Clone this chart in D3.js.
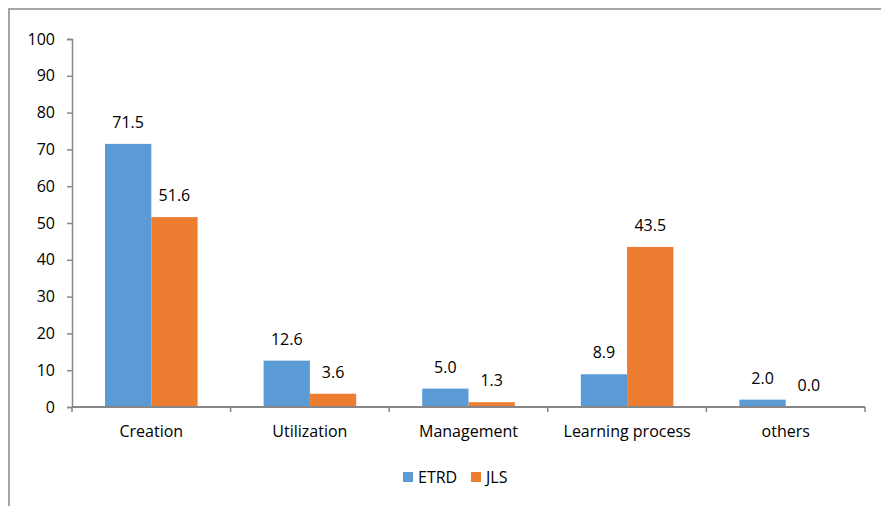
<!DOCTYPE html>
<html>
<head>
<meta charset="utf-8">
<script src="https://cdn.jsdelivr.net/npm/d3@7"></script>
<style>
  html, body { margin: 0; padding: 0; background: #fff; }
  svg { display: block; }
  text { font-family: "Open Sans", "Noto Sans", sans-serif; fill: #000; }
</style>
</head>
<body>
<svg id="chart" width="881" height="506"></svg>
<script>
const categories = ["Creation", "Utilization", "Management", "Learning process", "others"];
const seriesNames = ["ETRD", "JLS"];
const etrd = [71.5, 12.6, 5.0, 8.9, 2.0];
const jls = [51.6, 3.6, 1.3, 43.5, 0.0];
const yTicks = [0, 10, 20, 30, 40, 50, 60, 70, 80, 90, 100];
const colors = ["#5B9BD5", "#ED7D31"];

const svg = d3.select("#chart");
const axisColor = "#868686";
const fontSize = "16px";

// outer frame (extends beyond right/bottom edge)
svg.append("rect")
  .attr("x", 9).attr("y", 9)
  .attr("width", 900).attr("height", 520)
  .attr("fill", "none").attr("stroke", "#a6a6a6").attr("stroke-width", 2);

const plotLeft = 72, plotRight = 865, plotTop = 39, plotBottom = 407;

const x0 = d3.scaleBand().domain(categories).range([plotLeft, plotRight]).paddingInner(0).paddingOuter(0);
const x1 = d3.scaleBand().domain(seriesNames).range([0, x0.bandwidth()]).paddingInner(0).paddingOuter(0.713);
const y = d3.scaleLinear().domain([0, 100]).range([plotBottom, plotTop]);

const data = categories.map((c, i) => ({ cat: c, vals: [etrd[i], jls[i]] }));

// bars and value labels
const g = svg.append("g");
data.forEach(d => {
  d.vals.forEach((v, j) => {
    const xs = x0(d.cat) + x1(seriesNames[j]);
    g.append("rect")
      .attr("x", xs).attr("y", y(v))
      .attr("width", x1.bandwidth()).attr("height", plotBottom - y(v))
      .attr("fill", colors[j]);
    g.append("text")
      .attr("x", xs + x1.bandwidth() / 2)
      .attr("y", y(v) - 16)
      .attr("text-anchor", "middle")
      .style("font-size", fontSize)
      .text(v.toFixed(1));
  });
});

// y axis
const yAxis = d3.axisLeft(y).tickValues(yTicks).tickSize(5).tickPadding(12).tickFormat(d3.format("d"));
const ya = svg.append("g").attr("transform", `translate(${plotLeft},0)`).call(yAxis);
ya.select(".domain").attr("stroke", axisColor).attr("stroke-width", 1.5);
ya.selectAll(".tick line").attr("stroke", axisColor).attr("stroke-width", 1.5);
ya.selectAll(".tick text").style("font-size", fontSize).attr("fill", "#000")
  .style("font-family", "'Open Sans', 'Noto Sans', sans-serif");

// x axis with boundary ticks
const xa = svg.append("g").attr("transform", `translate(0,${plotBottom})`);
xa.append("line").attr("x1", plotLeft).attr("x2", plotRight).attr("stroke", axisColor).attr("stroke-width", 2);
const bounds = categories.map(c => x0(c)).concat([plotRight]);
xa.selectAll("line.tk").data(bounds).enter().append("line")
  .attr("class", "tk")
  .attr("x1", d => d).attr("x2", d => d).attr("y1", 0).attr("y2", 5)
  .attr("stroke", axisColor).attr("stroke-width", 1.5);
xa.selectAll("text").data(categories).enter().append("text")
  .attr("x", d => x0(d) + x0.bandwidth() / 2)
  .attr("y", 30)
  .attr("text-anchor", "middle")
  .style("font-size", fontSize)
  .text(d => d);

// legend
const legend = svg.append("g");
const legendItems = [{ name: "ETRD", x: 403 }, { name: "JLS", x: 471 }];
legendItems.forEach((it, j) => {
  legend.append("rect").attr("x", it.x).attr("y", 472).attr("width", 10).attr("height", 10).attr("fill", colors[j]);
  legend.append("text").attr("x", it.x + 15).attr("y", 483).style("font-size", fontSize).text(it.name);
});
</script>
</body>
</html>
